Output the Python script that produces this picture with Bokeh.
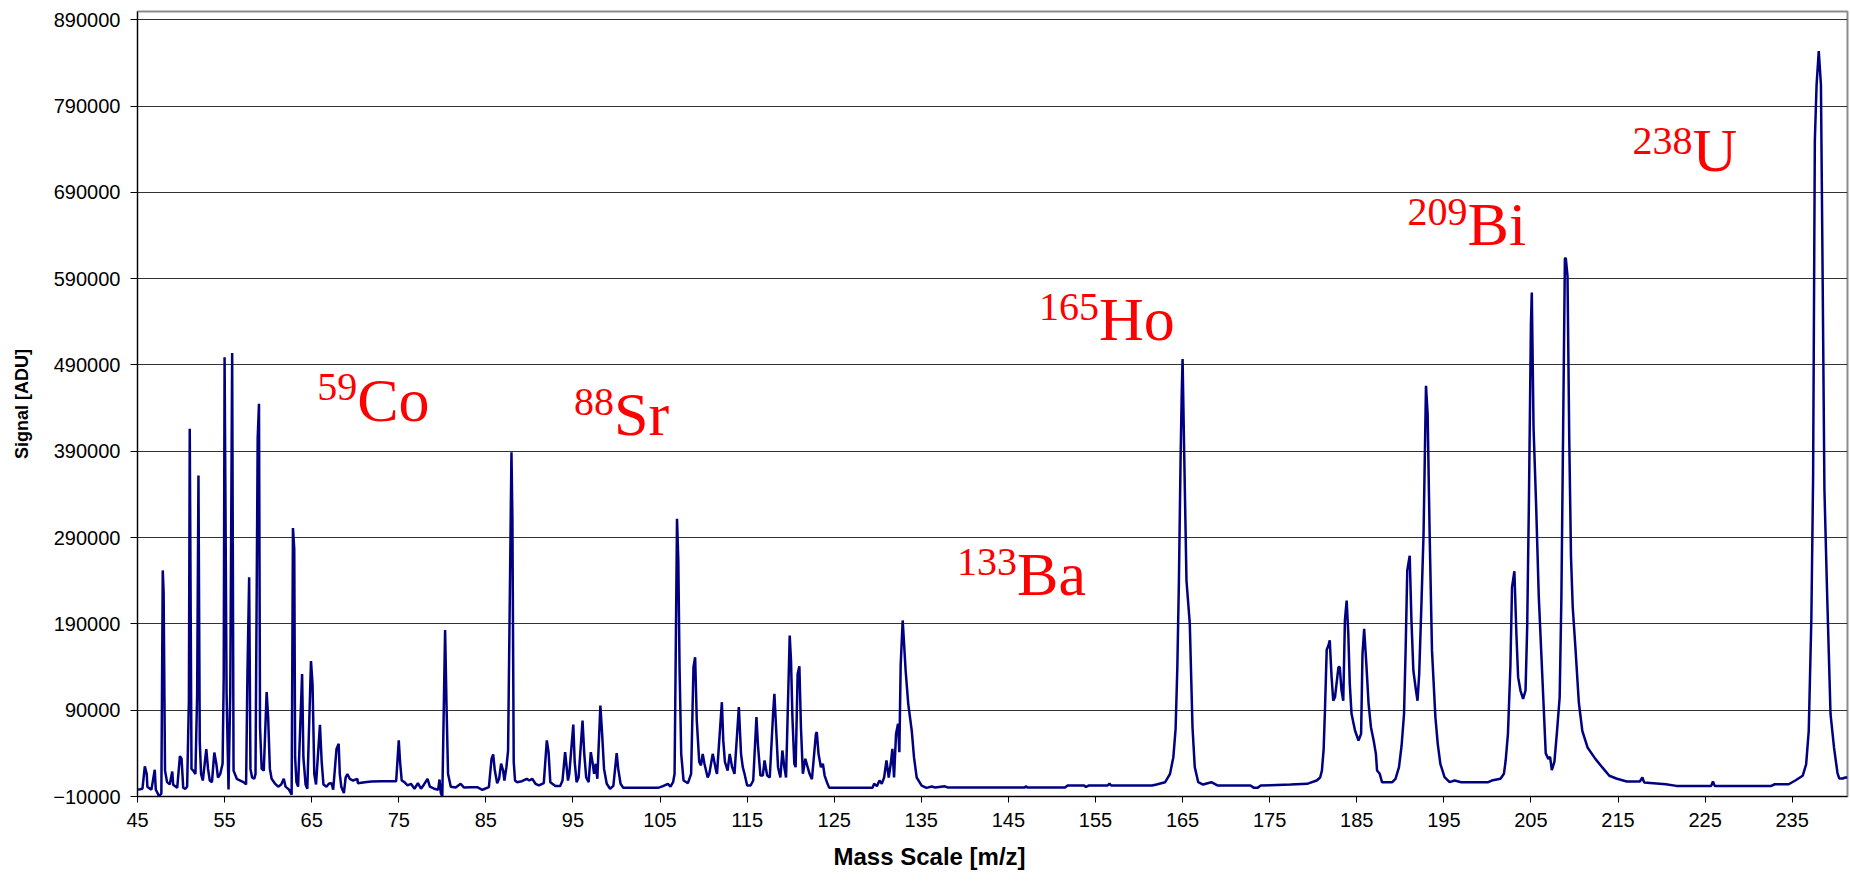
from bokeh.plotting import figure
from bokeh.models import FixedTicker, BasicTickFormatter, Label, Range1d, Title
from bokeh.embed import file_html
from bokeh.resources import INLINE

# ---- spectrum (mass [m/z], signal [ADU]) ----
mass = [
    45.0, 45.3, 45.57, 45.84, 46.06, 46.14, 46.6, 46.98, 47.1, 47.3, 47.47, 47.74, 47.9, 48.0, 48.16,
    48.4, 48.7, 48.99, 49.1, 49.56, 49.87, 50.06, 50.25, 50.5, 50.7, 50.9, 51.0, 51.2, 51.4, 51.65,
    51.85, 52.0, 52.15, 52.3, 52.5, 52.9, 53.1, 53.3, 53.55, 53.82, 54.05, 54.24, 54.5, 54.77, 54.9,
    55.0, 55.23, 55.45, 55.65, 55.87, 56.03, 56.4, 56.8, 57.17, 57.47, 57.62, 57.82, 57.97, 58.16, 58.4,
    58.55, 58.8, 58.95, 59.07, 59.26, 59.5, 59.83, 60.0, 60.2, 60.4, 60.78, 61.16, 61.5, 61.8, 62.0,
    62.4, 62.7, 62.85, 63.0, 63.1, 63.25, 63.44, 63.9, 64.05, 64.3, 64.5, 64.92, 65.1, 65.3, 65.5,
    65.95, 66.15, 66.35, 66.7, 67.0, 67.28, 67.47, 67.85, 68.1, 68.23, 68.4, 68.7, 68.9, 69.1, 69.37,
    69.75, 70.25, 70.3, 71.1, 71.85, 73.0, 74.7, 75.0, 75.15, 75.34, 75.65, 76.0, 76.4, 76.8, 77.2,
    77.55, 77.9, 78.3, 78.57, 79.07, 79.52, 79.68, 79.83, 80.0, 80.32, 80.48, 80.66, 80.97, 81.54, 82.1,
    82.5, 83.25, 84.0, 84.6, 85.35, 85.65, 85.84, 86.03, 86.3, 86.52, 86.75, 86.98, 87.13, 87.36, 87.55,
    87.94, 88.05, 88.2, 88.35, 88.57, 89.14, 89.7, 89.98, 90.32, 90.7, 91.1, 91.65, 92.0, 92.2, 92.4,
    92.98, 93.55, 93.8, 94.1, 94.24, 94.43, 94.58, 95.04, 95.2, 95.42, 95.65, 96.1, 96.3, 96.52, 96.8,
    97.05, 97.24, 97.43, 97.62, 97.8, 98.15, 98.35, 98.57, 98.88, 99.26, 99.64, 100.02, 100.2, 100.47, 100.78,
    103.25, 104.77, 105.34, 105.9, 106.2, 106.5, 106.67, 106.95, 107.1, 107.24, 107.43, 107.7, 108.2, 108.57, 108.84,
    109.03, 109.22, 109.5, 109.7, 109.9, 110.1, 110.47, 110.66, 111.05, 111.24, 111.43, 111.54, 112.1, 112.26, 112.45,
    112.76, 113.0, 113.28, 113.55, 114.05, 114.3, 114.5, 114.7, 115.0, 115.4, 115.7, 116.07, 116.26, 116.53, 116.8,
    117.0, 117.3, 117.6, 117.98, 118.13, 118.36, 118.55, 118.82, 119.05, 119.27, 119.47, 119.89, 120.04, 120.2, 120.42,
    120.57, 120.8, 121.0, 121.18, 121.4, 121.68, 121.95, 122.17, 122.44, 122.9, 123.0, 123.2, 123.47, 123.7, 123.9,
    124.16, 124.43, 129.4, 129.58, 129.9, 130.2, 130.46, 130.73, 131.0, 131.26, 131.49, 131.68, 131.87, 132.1, 132.33,
    132.48, 132.63, 132.86, 133.0, 133.2, 133.5, 133.9, 134.16, 134.47, 135.04, 135.6, 136.2, 136.6, 137.7, 138.0,
    146.9, 147.0, 147.2, 151.5, 151.8, 153.7, 153.9, 154.2, 156.4, 156.6, 156.8, 161.5, 162.0, 163.0, 163.56,
    163.94, 164.2, 164.4, 164.58, 164.77, 164.9, 165.0, 165.2, 165.45, 165.83, 166.0, 166.14, 166.4, 166.8, 167.35,
    168.3, 169.05, 172.8, 173.2, 173.6, 173.98, 177.4, 179.3, 180.4, 180.8, 181.0, 181.2, 181.35, 181.55, 181.75,
    181.9, 182.1, 182.3, 182.5, 182.9, 183.05, 183.25, 183.45, 183.64, 183.84, 184.03, 184.2, 184.4, 184.8, 185.2,
    185.5, 185.66, 185.85, 186.1, 186.36, 186.63, 186.94, 187.2, 187.33, 187.64, 187.9, 189.07, 189.45, 189.85, 190.15,
    190.43, 190.62, 190.8, 191.08, 191.28, 191.5, 191.8, 191.98, 192.17, 192.44, 192.67, 192.95, 193.14, 193.37, 193.64,
    194.03, 194.3, 194.6, 195.08, 195.66, 196.24, 197.0, 200.1, 200.5, 201.5, 201.9, 202.1, 202.36, 202.64, 202.83,
    203.1, 203.33, 203.53, 203.8, 204.1, 204.38, 204.57, 204.77, 205.0, 205.1, 205.3, 205.6, 205.9, 206.3, 206.7,
    207.0, 207.2, 207.4, 207.7, 208.0, 208.3, 208.5, 208.7, 208.9, 209.0, 209.2, 209.4, 209.6, 209.8, 210.1,
    210.5, 210.9, 211.5, 212.4, 213.2, 214.0, 214.8, 216.0, 217.5, 217.8, 218.0, 220.5, 221.7, 225.7, 225.9,
    226.1, 232.6, 233.0, 234.6, 235.4, 236.2, 236.6, 236.9, 237.2, 237.4, 237.6, 237.8, 238.05, 238.3, 238.5,
    238.7, 239.0, 239.2, 239.4, 239.8, 240.2, 240.4, 240.8, 241.1, 241.35,
]
signal = [
    -2000, -1500, -1000, 25000, 16000, 1000, -2000, 21000, -2000, -6000, -10000, -6500, 252000, 227000, 20000,
    6600, 4000, 19000, 3500, 0, 36700, 33700, 0, -1000, 1500, 101000, 416000, 22000, 20000, 16000,
    109000, 362000, 53000, 16000, 8500, 45000, 22000, 8500, 6600, 41000, 28000, 12000, 16000, 28000, 128000,
    499000, 109000, -2000, 109000, 504000, 20000, 10500, 8500, 6600, 4000, 130000, 244000, 22000, 12000, 10500,
    16000, 405000, 445000, 70000, 22000, 20000, 111000, 82000, 22000, 10500, 5000, 1400, 4000, 10500, 1400,
    -2000, -8000, 301000, 277000, 35000, 6600, 1400, 132000, 35000, 4000, -1000, 147000, 120000, 16000, 4000,
    73000, 30000, 4000, 1400, 5000, 5400, -2200, 45000, 51000, 16000, 1400, -6000, 12000, 16000, 10500,
    8500, 10500, 5400, 6600, 7300, 7700, 7700, 55000, 30000, 8500, 6600, 3000, 4700, -1000, 5400,
    -1000, 4000, 10500, 1400, -1000, -2200, 9700, -6000, -10000, 183000, 97000, 16000, 1400, 400, 4700,
    400, 800, 800, -2200, 800, 33600, 38700, 20100, 5400, 10500, 28000, 20100, 8500, 24000, 43000,
    389000, 310000, 30000, 8500, 6600, 7700, 10500, 8500, 10500, 4700, 2800, 5400, 55000, 41400, 6600,
    2300, 2300, 8500, 41400, 27900, 8500, 16300, 73400, 30000, 6600, 12000, 78000, 39400, 12000, 6600,
    41400, 30000, 16300, 27900, 10500, 95400, 62600, 22000, 4700, -1000, 2300, 40200, 22000, 4700, 0,
    0, 0, 2000, 4700, 1400, 6600, 16300, 311700, 263000, 140000, 39400, 8500, 5400, 16300, 140000,
    151400, 78000, 30000, 26000, 39400, 27900, 12000, 16300, 39400, 30000, 20100, 16300, 99300, 55000, 30000,
    20100, 39400, 24000, 16300, 93500, 39400, 24000, 16300, 2700, 2700, 8500, 82000, 47100, 14300, 14300,
    31700, 14300, 12000, 85800, 109000, 62600, 24000, 12000, 43300, 24000, 12000, 176500, 147600, 82000, 27900,
    24000, 132000, 141000, 70300, 16300, 33700, 24000, 16300, 10000, 62600, 64500, 39400, 24000, 27900, 14300,
    6600, 0, 0, 4700, 2000, 8500, 4700, 12000, 31700, 12000, 27900, 45200, 12000, 62600, 74200,
    41400, 141800, 194000, 170700, 136000, 97400, 66500, 35600, 12000, 2700, 0, 1500, 500, 1800, 500,
    500, 2000, 500, 500, 2700, 2700, 1000, 2700, 2700, 5000, 2700, 2700, 3900, 6600, 16300,
    35600, 68400, 140000, 240000, 380000, 455000, 497000, 380000, 240000, 190000, 124400, 70300, 24000, 6600, 3900,
    6600, 2700, 2700, 0, 0, 2700, 3900, 4700, 8500, 12000, 20000, 45000, 90000, 160000, 165000,
    171000, 130000, 101000, 105000, 140000, 140000, 113000, 101000, 194000, 217000, 178500, 120500, 85800, 66500, 54900,
    62600, 155300, 184300, 143700, 97400, 70300, 54900, 39400, 20100, 16300, 6600, 6600, 10500, 24000, 49100,
    85800, 163000, 252000, 269000, 194000, 136000, 112800, 101000, 132000, 217000, 294000, 466000, 433000, 294000, 159000,
    82000, 51000, 27900, 12400, 6600, 8500, 6600, 6600, 8500, 10500, 16300, 31700, 62600, 140000, 232500,
    251000, 178500, 128300, 112800, 103200, 112800, 186200, 333000, 538000, 574000, 417600, 326500, 222000, 131000, 40000,
    33600, 36000, 20500, 30300, 66100, 105000, 222000, 417600, 613000, 614000, 593000, 404800, 268000, 209300, 163800,
    98900, 66100, 46800, 33600, 23700, 14000, 10900, 7400, 7400, 12000, 6300, 4250, 2300, 2300, 7400,
    2300, 2300, 4200, 4200, 8800, 14000, 27100, 66100, 196000, 359000, 750000, 814600, 853700, 814600, 586700,
    346000, 228700, 157200, 85600, 46800, 17200, 10900, 10900, 12000, 12000,
]

x_ticks = [45, 55, 65, 75, 85, 95, 105, 115, 125, 135, 145, 155, 165, 175, 185, 195, 205, 215, 225, 235]
y_ticks = [-10000, 90000, 190000, 290000, 390000, 490000, 590000, 690000, 790000, 890000]

# isotope annotations: mass number, element, anchor (mass, signal of element text, signal of superscript)
iso_mass_no = ["59", "88", "133", "165", "209", "238"]
iso_element = ["Co", "Sr", "Ba", "Ho", "Bi", "U"]
iso_x = [70.23, 99.71, 146.0, 155.41, 197.72, 223.54]
iso_y = [449000, 433000, 247600, 543400, 653100, 738900]
iso_sup_y = [464000, 446600, 261200, 556700, 667700, 749000]

x_title = "Mass Scale [m/z]"
y_title = "Signal [ADU]"

p = figure(
    width=1850, height=881, output_backend="svg", toolbar_location=None,
    x_range=Range1d(45, 241.35), y_range=Range1d(-10000, 899600),
    min_border_left=137, min_border_right=3, min_border_top=11, min_border_bottom=85,
    background_fill_color="white", border_fill_color="white",
)
p.outline_line_color = "#8c8c8c"
p.outline_line_width = 2

p.line(mass, signal, line_color="#000080", line_width=2.5)

# axes
p.xaxis.ticker = FixedTicker(ticks=x_ticks)
p.yaxis.ticker = FixedTicker(ticks=y_ticks)
p.yaxis.formatter = BasicTickFormatter(use_scientific=False)
for ax in (p.xaxis[0], p.yaxis[0]):
    ax.axis_line_color = "black"
    ax.axis_line_width = 1
    ax.major_tick_line_color = "black"
    ax.major_tick_in = 0
    ax.minor_tick_line_color = None
    ax.major_label_text_font = "Liberation Sans"
    ax.major_label_text_font_size = "20px"
    ax.major_label_text_color = "black"
    ax.axis_label_text_font = "Liberation Sans"
    ax.axis_label_text_font_style = "bold"
    ax.axis_label_text_font_size = "18px"
    ax.axis_label_text_color = "black"
p.yaxis.major_tick_out = 7
p.yaxis.major_label_standoff = 10
p.yaxis.axis_label = y_title
p.yaxis.axis_label_standoff = 18
p.xaxis.major_tick_out = 6
p.xaxis.major_label_standoff = 10

p.xgrid.visible = False
p.ygrid.ticker = FixedTicker(ticks=y_ticks)
p.ygrid.grid_line_color = "#333333"
p.ygrid.grid_line_width = 1

# x-axis title, centred on the whole chart like the original (left of the frame centre)
p.add_layout(Title(text=x_title, align="left", offset=696, standoff=22,
                   text_font="Liberation Sans", text_font_style="bold",
                   text_font_size="24px", text_color="black"), "below")

for num, el, x, y, ys in zip(iso_mass_no, iso_element, iso_x, iso_y, iso_sup_y):
    p.add_layout(Label(x=x, y=ys, text=num, text_font="Liberation Serif", text_font_size="40px",
                       text_color="#ff0000", text_align="right", text_baseline="alphabetic"))
    p.add_layout(Label(x=x, y=y, text=el, text_font="Liberation Serif", text_font_size="62px",
                       text_color="#ff0000", text_align="left", text_baseline="alphabetic"))

open("out.html", "w").write(file_html(p, INLINE))
